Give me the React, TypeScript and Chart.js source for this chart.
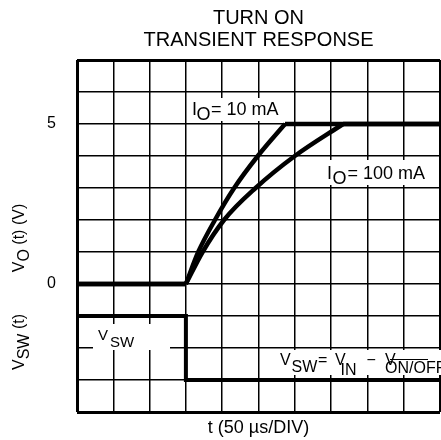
import React, { useEffect, useRef } from 'react';
import { Chart, registerables } from 'chart.js';

Chart.register(...registerables);

const FONT = "'Liberation Sans', Arial, Helvetica, sans-serif";

// ---- data ----
const titleLines = ['TURN ON', 'TRANSIENT RESPONSE'];
const xAxisTitle = 't (50 µs/DIV)';
const yTickLabels: Record<string, string> = { '5': '5', '0': '0' };
const tMin = 0;
const tMax = 10;
const vMin = -4;
const vMax = 7;

// V_O(t) for I_O = 10 mA  (time in divisions, volts)
const io10T = [0, 3, 3.34, 3.8, 4.33, 4.98, 5.73, 10];
const io10V = [0, 0, 1, 2, 3, 4, 5, 5];
// V_O(t) for I_O = 100 mA
const io100T = [0, 3, 3.46, 4.05, 4.92, 6.0, 7.33, 10];
const io100V = [0, 0, 1, 2, 3, 4, 5, 5];
// V_SW(t) step
const vswT = [0, 3, 3, 10];
const vswV = [-1, -1, -3, -3];

const toXY = (xs: number[], ys: number[]) => xs.map((x, i) => ({ x, y: ys[i] }));

// split a series into flat start, curved rise and flat end so corners stay sharp
function splitSeries(xs: number[], ys: number[]) {
  const n = xs.length;
  const pts = toXY(xs, ys);
  return {
    flat: [...pts.slice(0, 2), { x: NaN, y: NaN }, ...pts.slice(n - 2)],
    rise: pts.slice(1, n - 1),
  };
}

type Part = { t: string; x: number; y: number; size: number };

function drawParts(ctx: CanvasRenderingContext2D, parts: Part[]) {
  ctx.fillStyle = '#000';
  ctx.textAlign = 'left';
  ctx.textBaseline = 'alphabetic';
  for (const p of parts) {
    ctx.font = `${p.size}px ${FONT}`;
    ctx.fillText(p.t, p.x, p.y);
  }
}

function drawRotatedTitle(
  ctx: CanvasRenderingContext2D,
  cx: number,
  cy: number,
  segs: { t: string; dy: number }[],
  size: number
) {
  ctx.save();
  ctx.translate(cx, cy);
  ctx.rotate(-Math.PI / 2);
  ctx.font = `${size}px ${FONT}`;
  ctx.fillStyle = '#000';
  ctx.textBaseline = 'alphabetic';
  ctx.textAlign = 'left';
  const total = segs.reduce((s, g) => s + ctx.measureText(g.t).width, 0);
  let x = -total / 2;
  for (const g of segs) {
    ctx.fillText(g.t, x, g.dy);
    x += ctx.measureText(g.t).width;
  }
  ctx.restore();
}

const annotationPlugin = {
  id: 'annotations',
  beforeDatasetsDraw(chart: any) {
    const ctx: CanvasRenderingContext2D = chart.ctx;
    ctx.save();
    ctx.fillStyle = '#fff';
    ctx.fillRect(188, 98, 97, 23);
    ctx.fillRect(324, 160, 108, 25);
    ctx.fillRect(93, 324, 77, 26);
    ctx.fillRect(277, 350, 164, 25);

    drawParts(ctx, [
      { t: 'I', x: 192, y: 114.5, size: 18 },
      { t: 'O', x: 196.5, y: 120, size: 18 },
      { t: '= 10 mA', x: 211, y: 114.5, size: 18 },
    ]);
    drawParts(ctx, [
      { t: 'I', x: 327, y: 178.5, size: 18 },
      { t: 'O', x: 332.5, y: 184, size: 18 },
      { t: '= 100 mA', x: 347.5, y: 178.5, size: 18 },
    ]);
    drawParts(ctx, [
      { t: 'V', x: 98, y: 340, size: 15 },
      { t: 'SW', x: 110, y: 346.5, size: 15 },
    ]);
    drawParts(ctx, [
      { t: 'V', x: 280, y: 365, size: 16 },
      { t: 'SW', x: 291.5, y: 372, size: 16 },
      { t: '=', x: 318, y: 365, size: 16 },
      { t: 'V', x: 335, y: 365, size: 16 },
      { t: 'IN', x: 340.5, y: 375, size: 16 },
      { t: '\u2212', x: 366.5, y: 365, size: 16 },
      { t: 'V', x: 385, y: 365, size: 16 },
      { t: 'ON/OFF', x: 385, y: 373, size: 16 },
    ]);
    ctx.strokeStyle = '#000';
    ctx.lineWidth = 1;
    ctx.beginPath();
    ctx.moveTo(390, 359.5);
    ctx.lineTo(428, 359.5);
    ctx.stroke();

    drawRotatedTitle(ctx, 24, 238, [
      { t: 'V', dy: 0 },
      { t: 'O', dy: 5 },
      { t: ' (t) (V)', dy: 0 },
    ], 16);
    drawRotatedTitle(ctx, 24, 342, [
      { t: 'V', dy: 0 },
      { t: 'SW', dy: 5 },
      { t: ' (t)', dy: 0 },
    ], 16);
    ctx.restore();
  },
};

export default function App() {
  const ref = useRef<HTMLCanvasElement | null>(null);

  useEffect(() => {
    if (!ref.current) return;
    const s10 = splitSeries(io10T, io10V);
    const s100 = splitSeries(io100T, io100V);
    const common = {
      borderColor: '#000',
      pointRadius: 0,
      fill: false,
      spanGaps: false,
    };
    const chart = new Chart(ref.current, {
      type: 'line',
      data: {
        datasets: [
          { ...common, label: 'IO = 10 mA', data: s10.rise, borderWidth: 4.5, cubicInterpolationMode: 'monotone' },
          { ...common, label: 'IO = 10 mA flat', data: s10.flat, borderWidth: 4.5, tension: 0 },
          { ...common, label: 'IO = 100 mA', data: s100.rise, borderWidth: 4.5, cubicInterpolationMode: 'monotone' },
          { ...common, label: 'IO = 100 mA flat', data: s100.flat, borderWidth: 4.5, tension: 0 },
          { ...common, label: 'VSW', data: toXY(vswT, vswV), borderWidth: 4, tension: 0, borderJoinStyle: 'miter' },
        ],
      },
      options: {
        animation: false,
        responsive: false,
        devicePixelRatio: 1,
        layout: { padding: { left: 0, right: 1, top: 0, bottom: 0 } },
        plugins: {
          legend: { display: false },
          tooltip: { enabled: false },
          title: {
            display: true,
            text: titleLines,
            fullSize: false,
            color: '#000',
            font: { family: FONT, size: 20, weight: 'normal', lineHeight: 1.1 },
            padding: { top: 7, bottom: 9 },
          },
        },
        scales: {
          x: {
            type: 'linear',
            min: tMin,
            max: tMax,
            afterFit: (scale: any) => {
              scale.height = 28;
              scale.paddingLeft = 0;
              scale.paddingRight = 0;
            },
            border: { display: false },
            grid: {
              color: '#000',
              drawTicks: false,
              lineWidth: (c: any) =>
                c.tick && (c.tick.value === tMin || c.tick.value === tMax) ? 3 : 1.5,
            },
            ticks: { display: false, stepSize: 1, autoSkip: false },
            title: {
              display: true,
              text: xAxisTitle,
              color: '#000',
              font: { family: FONT, size: 18 },
              padding: { top: 0, bottom: 1 },
            },
          },
          y: {
            type: 'linear',
            min: vMin,
            max: vMax,
            afterFit: (scale: any) => {
              scale.width = 77;
              scale.paddingTop = 0;
              scale.paddingBottom = 0;
            },
            border: { display: false },
            grid: {
              color: '#000',
              drawTicks: false,
              lineWidth: (c: any) =>
                c.tick && (c.tick.value === vMin || c.tick.value === vMax) ? 3 : 1.5,
            },
            ticks: {
              stepSize: 1,
              autoSkip: false,
              color: '#000',
              padding: 21,
              font: { family: FONT, size: 16 },
              callback: (v: any) => yTickLabels[String(v)] ?? '',
            },
          },
        },
      },
      plugins: [annotationPlugin],
    } as any);
    return () => chart.destroy();
  }, []);

  return (
    <canvas
      ref={ref}
      width={441}
      height={440}
      style={{ position: 'fixed', left: 0, top: 0, width: 441, height: 440, display: 'block' }}
    />
  );
}
